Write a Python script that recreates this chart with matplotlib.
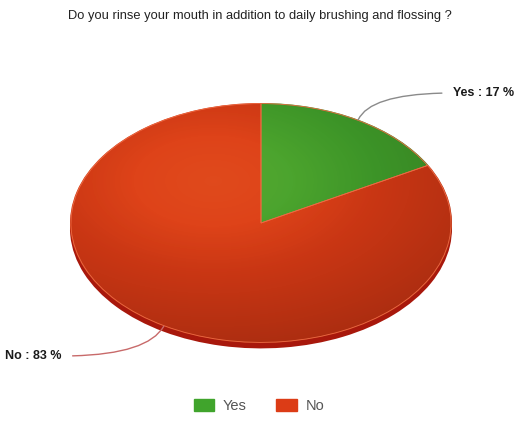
import numpy as np
import matplotlib
matplotlib.use("Agg")
import matplotlib.pyplot as plt
from matplotlib.patches import Patch, Ellipse

plt.rcParams['font.family'] = ['Liberation Sans', 'DejaVu Sans']

# --- Survey answers ---
answers = ['Yes', 'No']
shares = [17, 83]
top_colors = ['#40a42c', '#dc3c16']
side_colors = ['#2a7a1e', '#a8180c']
line_colors = ['#8a8a8a', '#c86a6a']
title = 'Do you rinse your mouth in addition to daily brushing and flossing ?'

fig = plt.figure(figsize=(5.18, 4.41), dpi=100)

# pie axes stretched flat so the pie reads as a tilted disc
ax = fig.add_axes([70 / 518, (441 - 349) / 441, 382 / 518, 246 / 441])

# --- Disc thickness: a darker copy shifted down a little ---
ax.pie(shares, colors=side_colors, startangle=90, counterclock=False,
       radius=1, center=(0, -0.045), wedgeprops=dict(linewidth=0, zorder=1))

# --- Top surface ---
wedges, _ = ax.pie(shares, colors=top_colors, startangle=90, counterclock=False,
                   radius=1, center=(0, 0),
                   wedgeprops=dict(linewidth=0, zorder=2))

# light seam between the two slices
ax.pie(shares, colors=['none', 'none'], startangle=90, counterclock=False,
       radius=0.995, wedgeprops=dict(linewidth=0.6, edgecolor='#ee6a44', zorder=4))

# soft shading over the top surface
gx, gy = np.meshgrid(np.linspace(-1, 1, 300), np.linspace(-1, 1, 300))
d = np.sqrt((gx + 0.25) ** 2 + ((gy - 0.35) * 1.1) ** 2)
shade = np.zeros(gx.shape + (4,))
shade[..., 0] = 0.1
shade[..., 3] = np.clip((d - 0.4) / 1.2, 0, 1) * 0.26
glow = np.ones(gx.shape + (4,))
glow[..., 1] = 0.7
glow[..., 2] = 0.3
glow[..., 3] = np.clip(1 - d / 0.9, 0, 1) * 0.12
disc = Ellipse((0, 0), 2, 2, transform=ax.transData)
for layer in (shade, glow):
    im = ax.imshow(layer, extent=(-1, 1, -1, 1), origin='lower',
                   aspect='auto', zorder=3, interpolation='bilinear')
    im.set_clip_path(disc)

ax.set_xlim(-1, 1)
ax.set_ylim(-1.05, 1)
ax.set_aspect('auto')
ax.axis('off')

# --- Labels with curved leader lines ---
label_pos = [(453, 348, 'left', (0, 0.5), 65), (5, 85, 'left', (1, 0.5), 60)]
start = 90.0
for name, val, lc, (tx, ty, ha, rel, ang) in zip(answers, shares, line_colors, label_pos):
    sweep = val / 100 * 360
    mid = np.deg2rad(start - sweep / 2)
    start -= sweep
    ax.annotate(f'{name} : {val} %', xy=(np.cos(mid), np.sin(mid)),
                xytext=(tx, ty), textcoords='figure pixels',
                ha=ha, va='center', fontsize=9, fontweight='bold', color='#1a1a1a',
                arrowprops=dict(arrowstyle='-', color=lc, lw=1.0, relpos=rel,
                                shrinkA=6, shrinkB=0,
                                connectionstyle=f'angle3,angleA=0,angleB={ang}'),
                zorder=5)

# --- Title ---
fig.text(0.502, 1 - 16 / 441, title, ha='center', va='center',
         fontsize=9.3, color='#222222')

# --- Legend ---
handles = [Patch(facecolor=c, edgecolor=c) for c in top_colors]
fig.legend(handles, answers, loc='center', bbox_to_anchor=(0.5, 1 - 406 / 441),
           ncol=2, frameon=False, fontsize=10.5, labelcolor='#555555',
           handlelength=1.4, handleheight=0.9, handletextpad=0.6,
           columnspacing=2.0)

fig.savefig('out.png', dpi=100)
